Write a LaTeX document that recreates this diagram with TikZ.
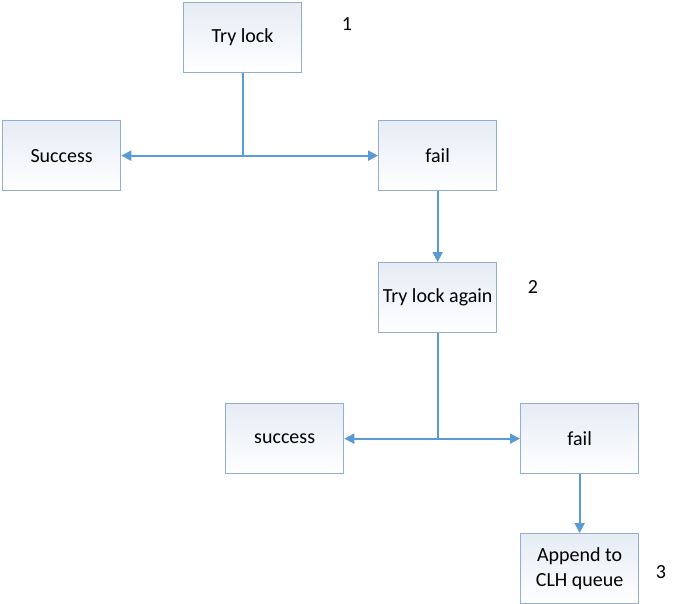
\documentclass[tikz,border=0pt]{standalone}
\usepackage{fontspec}
\setmainfont{Carlito}
\usetikzlibrary{arrows.meta}
\definecolor{boxline}{HTML}{95ADD0}
\definecolor{boxtop}{HTML}{E6ECF5}
\definecolor{arr}{HTML}{5B9BD5}
\begin{document}
\begin{tikzpicture}[x=1pt,y=-1pt,
  stepbox/.style={draw=boxline,line width=1.3pt,top color=boxtop,bottom color=white,
    minimum width=118pt,minimum height=70pt,inner sep=0pt,align=center,
    font=\fontsize{20}{25}\selectfont,anchor=north west},
  conn/.style={draw=arr,line width=2pt},
  arrowc/.style={conn,-{Triangle[length=10pt,width=10pt]}},
  num/.style={font=\fontsize{20}{24}\selectfont}]
\useasboundingbox (0,0) rectangle (679,604);
\node[stepbox] (t1) at (183,2) {Try lock};
\node[stepbox] (s1) at (2,120) {Success};
\node[stepbox] (f1) at (378,120) {fail};
\node[stepbox] (t2) at (378,262) {Try lock again};
\node[stepbox] (s2) at (225,403) {success};
\node[stepbox] (f2) at (520,403) {fail};
\node[stepbox] (ap) at (520,533) {Append to\\CLH queue};
\node[num] (n1) at (347,24) {1};
\node[num] (n2) at (533,287) {2};
\node[num] (n3) at (661,572) {3};
\coordinate (j1) at (t1.south |- s1.east);
\coordinate (j2) at (t2.south |- s2.east);
\draw[conn] (t1.south) -- (j1);
\draw[arrowc] (j1) -- (s1.east);
\draw[arrowc] (j1) -- (f1.west);
\draw[arrowc] (f1.south) -- (t2.north);
\draw[conn] (t2.south) -- (j2);
\draw[arrowc] (j2) -- (s2.east);
\draw[arrowc] (j2) -- (f2.west);
\draw[arrowc] (f2.south) -- (ap.north);
\end{tikzpicture}
\end{document}
